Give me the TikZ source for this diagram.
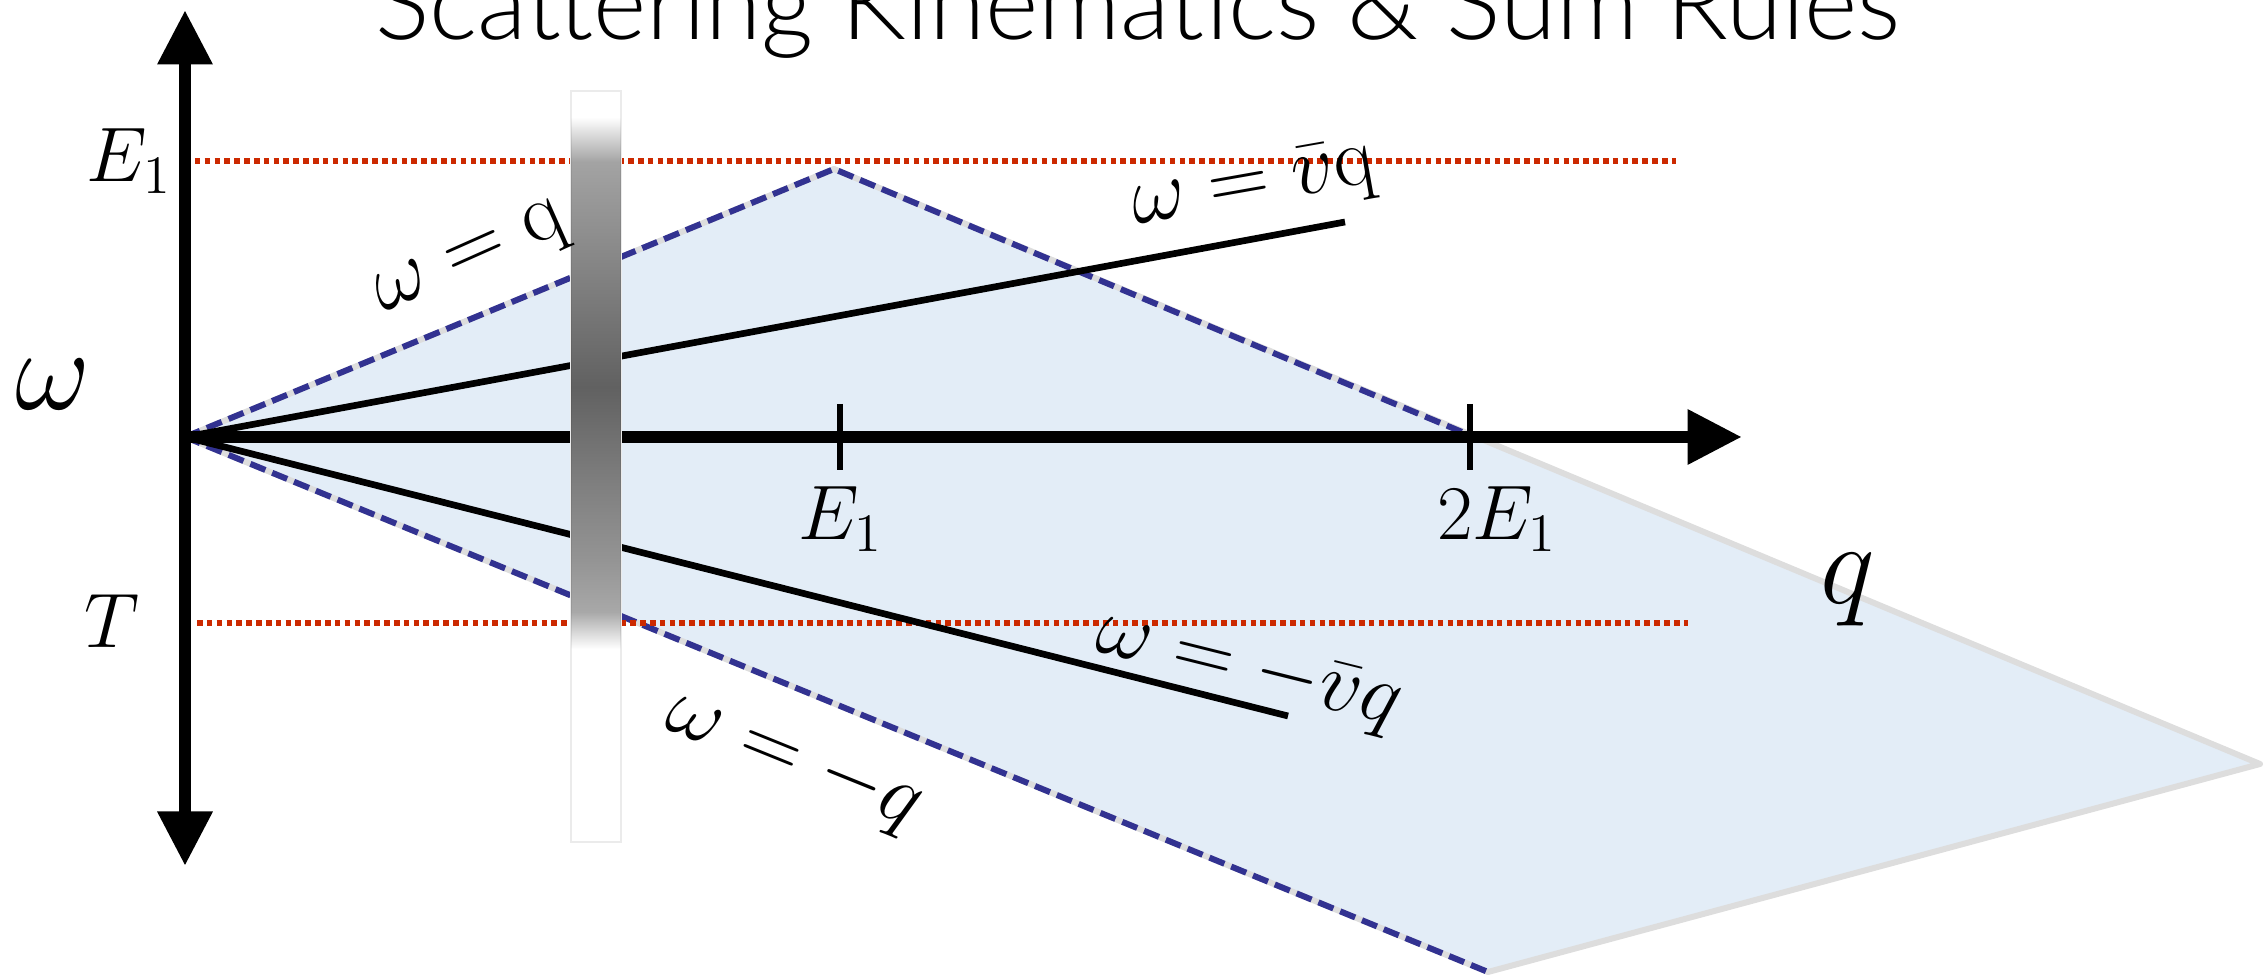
\RequirePackage{fix-cm}
\documentclass[tikz,border=0pt]{standalone}
\usepackage{amsmath,amssymb}
\usepackage{xcolor}
\usepackage{fontspec}
\newfontfamily\titlefont{Lato}[UprightFont=* Light]
\usetikzlibrary{arrows.meta,fadings}

\definecolor{regionblue}{RGB}{227,237,247}
\definecolor{edgegray}{RGB}{221,221,221}
\definecolor{cutblue}{RGB}{50,50,145}
\definecolor{levelred}{RGB}{204,41,0}

\tikzset{bigtip/.tip={Triangle[length=15.5pt,width=14.8pt]}}

% pieces of the soft grey band, top to bottom
\tikzfading[name=bandA,top color=transparent!100,bottom color=transparent!64]
\tikzfading[name=bandB,top color=transparent!64,bottom color=transparent!50]
\tikzfading[name=bandC,top color=transparent!50,bottom color=transparent!38]
\tikzfading[name=bandD,top color=transparent!38,bottom color=transparent!50]
\tikzfading[name=bandE,top color=transparent!50,bottom color=transparent!58]
\tikzfading[name=bandF,top color=transparent!58,bottom color=transparent!66]
\tikzfading[name=bandG,top color=transparent!66,bottom color=transparent!100]

\begin{document}
\begin{tikzpicture}[x=0.01cm,y=-0.01cm,
    axisline/.style={line width=3.6pt},
    tickline/.style={line width=1.7pt},
    velline/.style={line width=1.9pt},
    cutline/.style={cutblue,line width=1.7pt,dash pattern=on 4.6pt off 2.1pt},
    levelline/.style={levelred,line width=1.45pt,dash pattern=on 1.6pt off 1.2pt},
    lbl/.style={inner sep=0pt,font=\fontsize{22}{26}\selectfont},
    slbl/.style={inner sep=0pt,font=\fontsize{24}{28}\selectfont},
    biglbl/.style={inner sep=0pt,font=\fontsize{33}{38}\selectfont}]
\useasboundingbox (0,0) rectangle (2266,980);

    % Kinematic region
\coordinate (O) at (185,437);
\coordinate (apex) at (834,169);
\coordinate (cross) at (1462,432);
\coordinate (far) at (2260,764);
\coordinate (low) at (1488,972);
\filldraw[fill=regionblue,draw=edgegray,line width=1.7pt,line join=round] (O) -- (apex) -- (far) -- (low) -- cycle;
\draw[cutline] (O) -- (apex) -- (cross);
\draw[cutline] (O) -- (low);

    % Levels E_1 and T
\coordinate (e1a) at (185,161);
\coordinate (e1b) at (1676,161);
\coordinate (ta) at (197,623);
\coordinate (tb) at (1688,623);
\draw[levelline] (e1a) -- (e1b);
\draw[levelline] (ta) -- (tb);

    % omega = +-vbar q
\coordinate (vend) at (1345,222);
\coordinate (mvend) at (1288,716);
\draw[velline] (O) -- (vend);
\draw[velline] (O) -- (mvend);

    % Axes
\coordinate (ytop) at (185,10);
\coordinate (ybot) at (185,866);
\coordinate (xend) at (1742,437);
\draw[axisline,bigtip-bigtip] (ybot) -- (ytop);
\draw[axisline,-bigtip] (O) -- (xend);
\coordinate (tE) at (840,437);
\coordinate (t2E) at (1470,437);
\draw[tickline] (tE) ++(0,-33) -- ++(0,66);
\draw[tickline] (t2E) ++(0,-33) -- ++(0,66);

    % Grey band
\fill[white,draw=black!8,line width=0.8pt] (571,91) rectangle (621,842);
\foreach \ya/\yb/\fd in {117/162/bandA,162/283/bandB,283/387/bandC,387/486/bandD,486/560/bandE,560/612/bandF,612/649/bandG}
    \fill[black,path fading=\fd] (571,\ya) rectangle (621,\yb);

    % Labels
\node[anchor=base,font=\titlefont\fontsize{29}{34}\selectfont] (title) at (1138,40) {Scattering Kinematics \& Sum Rules};
\node[biglbl] (wlabel) at (53,385) {$\omega$};
\node[biglbl,anchor=base] (qlabel) at (1848,604) {$q$};
\node[lbl,anchor=base east] (e1left) at (172,182) {$E_1$};
\node[lbl,anchor=base] (tlabel) at (112,648) {$T$};
\node[lbl,anchor=base] (e1tick) at (841,540) {$E_1$};
\node[lbl,anchor=base] (twoe1) at (1497,540) {$2E_1$};
\node[slbl,rotate=24] (wq) at (472,262) {$\omega=\mathrm{q}$};
\node[slbl,rotate=10] (wvq) at (1254,188) {$\omega=\bar{v}\mathrm{q}$};
\node[slbl,rotate=-14] (wmvq) at (1248,672) {$\omega=-\bar{v}q$};
\node[slbl,rotate=-22] (wmq) at (793,762) {$\omega=-q$};
\end{tikzpicture}
\end{document}
